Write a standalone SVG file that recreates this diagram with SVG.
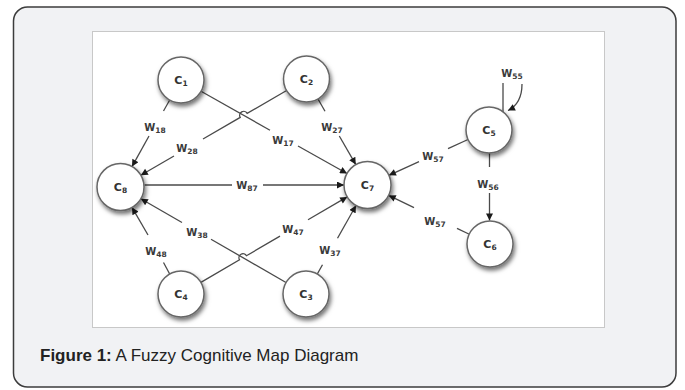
<svg xmlns="http://www.w3.org/2000/svg" width="685" height="390" viewBox="0 0 685 390">
<defs>
<style>
.frame{fill:#f1f2f4;stroke:#3c3c3c;stroke-width:1.5}
.panel{fill:#ffffff;stroke:#c8c8c8;stroke-width:1}
.node{fill:#ffffff;stroke:#666666;stroke-width:1.5;filter:url(#sh)}
.nl{font-family:"DejaVu Sans",sans-serif;font-size:11px;font-weight:bold;fill:#333333;text-anchor:middle}
.wl{font-family:"DejaVu Sans",sans-serif;font-size:10px;font-weight:bold;fill:#3a3a3a;text-anchor:middle}
.sub{font-size:7.5px}
.e{stroke:#4a4a4a;stroke-width:1.3;fill:none}
.a{marker-end:url(#arr)}
.cap{font-family:"Liberation Sans",Arial,sans-serif;font-size:17px;fill:#222222}
</style>
<filter id="sh" x="-30%" y="-30%" width="170%" height="170%">
<feDropShadow dx="1.5" dy="3" stdDeviation="2" flood-color="#000000" flood-opacity="0.55"/>
</filter>
<marker id="arr" viewBox="0 0 10 10" refX="10" refY="5" markerWidth="8" markerHeight="7" orient="auto" markerUnits="userSpaceOnUse">
<path d="M0,0 L10,5 L0,10 z" fill="#1a1a1a"/>
</marker>
</defs>
<rect class="frame" x="13.5" y="7" width="662.5" height="380" rx="14"/>
<rect class="panel" x="92.5" y="31.5" width="512" height="296"/>
<g id="connectors">
<line class="e" x1="169.7" y1="100" x2="163.5" y2="111"/>
<line class="e a" x1="149" y1="136" x2="132" y2="166.6"/>
<path class="e" d="M286.6,90.5 L247.2,113.4 A4,4 0 0 0 240.2,117.4 L203,139"/>
<line class="e a" x1="174" y1="156" x2="140.8" y2="175.2"/>
<line class="e" x1="201" y1="91.3" x2="270" y2="130.2"/>
<line class="e a" x1="298" y1="146" x2="347" y2="173.5"/>
<line class="e" x1="318" y1="99" x2="325" y2="111.2"/>
<line class="e a" x1="339.3" y1="136" x2="355.8" y2="164.6"/>
<line class="e" x1="144.5" y1="185" x2="232" y2="185"/>
<line class="e a" x1="263" y1="185" x2="344" y2="185"/>
<line class="e" x1="169.7" y1="274" x2="163.5" y2="262.5"/>
<line class="e a" x1="148" y1="235" x2="132" y2="207.4"/>
<line class="e" x1="286" y1="282.5" x2="211" y2="239.2"/>
<line class="e a" x1="182" y1="222.5" x2="140.8" y2="198.7"/>
<path class="e" d="M200.9,282.4 L239.5,259.7 A4,4 0 0 1 246.5,255.7 L280,236.1"/>
<line class="e a" x1="308" y1="219.7" x2="347.2" y2="196.9"/>
<line class="e" x1="317.3" y1="274" x2="322.5" y2="264.8"/>
<line class="e a" x1="337.5" y1="238.2" x2="356" y2="205.5"/>
<line class="e" x1="468" y1="139.5" x2="448" y2="148.6"/>
<line class="e a" x1="419" y1="161.7" x2="388.9" y2="175.3"/>
<line class="e" x1="468.8" y1="234" x2="457" y2="228.3"/>
<line class="e a" x1="414" y1="207.6" x2="388.7" y2="195.4"/>
<line class="e" x1="489.5" y1="153" x2="489.5" y2="167"/>
<line class="e a" x1="489.5" y1="193" x2="489.5" y2="220.5"/>
<line class="e" x1="503" y1="112" x2="503" y2="83"/>
<path class="e a" d="M522,84 C522,98 517,106 508,110.5"/>
<text class="wl" x="155" y="131">W<tspan class="sub" dy="2">18</tspan></text>
<text class="wl" x="187" y="152">W<tspan class="sub" dy="2">28</tspan></text>
<text class="wl" x="283" y="144">W<tspan class="sub" dy="2">17</tspan></text>
<text class="wl" x="332" y="131">W<tspan class="sub" dy="2">27</tspan></text>
<text class="wl" x="247" y="189">W<tspan class="sub" dy="2">87</tspan></text>
<text class="wl" x="156" y="255">W<tspan class="sub" dy="2">48</tspan></text>
<text class="wl" x="197" y="236">W<tspan class="sub" dy="2">38</tspan></text>
<text class="wl" x="293" y="233">W<tspan class="sub" dy="2">47</tspan></text>
<text class="wl" x="330" y="254">W<tspan class="sub" dy="2">37</tspan></text>
<text class="wl" x="433" y="160">W<tspan class="sub" dy="2">57</tspan></text>
<text class="wl" x="435" y="225">W<tspan class="sub" dy="2">57</tspan></text>
<text class="wl" x="488" y="188">W<tspan class="sub" dy="2">56</tspan></text>
<text class="wl" x="512" y="77">W<tspan class="sub" dy="2">55</tspan></text>
</g>
<g id="c1"><circle class="node" cx="181" cy="80" r="23"/><text class="nl" x="181" y="84">C<tspan class="sub" dy="2">1</tspan></text></g>
<g id="c2"><circle class="node" cx="306.5" cy="79" r="23"/><text class="nl" x="306.5" y="83">C<tspan class="sub" dy="2">2</tspan></text></g>
<g id="c8"><circle class="node" cx="120.5" cy="187" r="23.5"/><text class="nl" x="120.5" y="191">C<tspan class="sub" dy="2">8</tspan></text></g>
<g id="c7"><circle class="node" cx="367.5" cy="185" r="23.5"/><text class="nl" x="367.5" y="189">C<tspan class="sub" dy="2">7</tspan></text></g>
<g id="c5"><circle class="node" cx="489" cy="130" r="23"/><text class="nl" x="489" y="134">C<tspan class="sub" dy="2">5</tspan></text></g>
<g id="c6"><circle class="node" cx="490" cy="244" r="23"/><text class="nl" x="490" y="248">C<tspan class="sub" dy="2">6</tspan></text></g>
<g id="c4"><circle class="node" cx="181" cy="294" r="23"/><text class="nl" x="181" y="298">C<tspan class="sub" dy="2">4</tspan></text></g>
<g id="c3"><circle class="node" cx="306" cy="294" r="23"/><text class="nl" x="306" y="298">C<tspan class="sub" dy="2">3</tspan></text></g>
<text class="cap" x="40" y="361"><tspan font-weight="bold">Figure 1:</tspan> A Fuzzy Cognitive Map Diagram</text>
</svg>
